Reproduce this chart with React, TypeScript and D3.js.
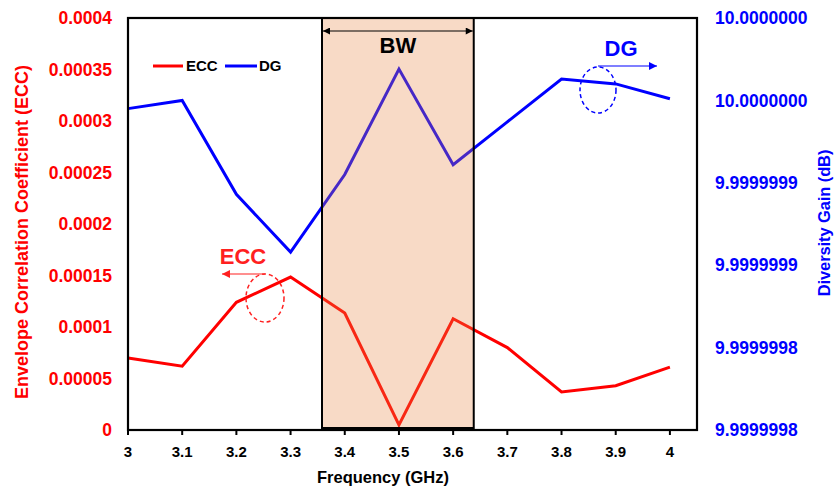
import React from "react";
import * as d3 from "d3";

const frequencies = [3.0, 3.1, 3.2, 3.3, 3.4, 3.5, 3.6, 3.7, 3.8, 3.9, 4.0];
const eccValues = [0.00007, 0.000062, 0.000124, 0.0001485, 0.0001135, 0.000005, 0.000108, 0.00008, 0.000037, 0.000043, 0.000061];
const dgValues = [9.999999945, 9.99999995, 9.999999893, 9.999999858, 9.999999905, 9.999999969, 9.999999911, 9.999999937, 9.999999963, 9.99999996, 9.999999951];
const xTicks = [3, 3.1, 3.2, 3.3, 3.4, 3.5, 3.6, 3.7, 3.8, 3.9, 4];
const xTickLabels = ["3", "3.1", "3.2", "3.3", "3.4", "3.5", "3.6", "3.7", "3.8", "3.9", "4"];
const eccTicks = [0, 0.00005, 0.0001, 0.00015, 0.0002, 0.00025, 0.0003, 0.00035, 0.0004];
const eccTickLabels = ["0", "0.00005", "0.0001", "0.00015", "0.0002", "0.00025", "0.0003", "0.00035", "0.0004"];
const dgTicks = [9.99999975, 9.9999998, 9.99999985, 9.9999999, 9.99999995, 10.0];
const dgTickLabels = ["9.9999998", "9.9999998", "9.9999999", "9.9999999", "10.0000000", "10.0000000"];
const bwRange = [3.358, 3.638];

const FONT = "'Liberation Sans', Arial, sans-serif";

export default function App() {
  const left = 128, right = 697, top = 18, bottom = 430;
  const x = d3.scaleLinear().domain([3, 4.05]).range([left, right]);
  const yE = d3.scaleLinear().domain([0, 0.0004]).range([bottom, top]);
  const yD = d3.scaleLinear().domain([9.99999975, 10.0]).range([bottom, top]);

  const eccLine = d3.line<number>().x((_, i) => x(frequencies[i])).y((d) => yE(d))(eccValues) || "";
  const dgLine = d3.line<number>().x((_, i) => x(frequencies[i])).y((d) => yD(d))(dgValues) || "";

  const bx0 = x(bwRange[0]);
  const bx1 = x(bwRange[1]);

  return (
    <svg width={834} height={488} style={{ position: "absolute", left: 0, top: 0, fontFamily: FONT }}>
      <defs>
        <marker id="ah-k" viewBox="0 0 10 10" refX="10" refY="5" markerWidth="9" markerHeight="7" orient="auto-start-reverse" markerUnits="userSpaceOnUse">
          <path d="M0,0 L10,5 L0,10 z" fill="#000" />
        </marker>
        <marker id="ah-b" viewBox="0 0 10 10" refX="10" refY="5" markerWidth="11" markerHeight="8" orient="auto" markerUnits="userSpaceOnUse">
          <path d="M0,0 L10,5 L0,10 z" fill="#0000ff" />
        </marker>
        <marker id="ah-r" viewBox="0 0 10 10" refX="10" refY="5" markerWidth="11" markerHeight="8" orient="auto" markerUnits="userSpaceOnUse">
          <path d="M0,0 L10,5 L0,10 z" fill="#ff2020" />
        </marker>
      </defs>
      <rect x={0} y={0} width={834} height={488} fill="#fff" />

      {/* data lines */}
      <path d={dgLine} fill="none" stroke="#0000ff" strokeWidth={3} strokeLinejoin="miter" />
      <path d={eccLine} fill="none" stroke="#ff0000" strokeWidth={3} strokeLinejoin="miter" />

      {/* BW shaded region (semi-transparent over lines) */}
      <rect x={bx0} y={top} width={bx1 - bx0} height={bottom - 2 - top} fill="rgb(232,132,65)" fillOpacity={0.3} stroke="#000" strokeWidth={2} />
      <line x1={bx0} x2={bx1} y1={bottom - 1} y2={bottom - 1} stroke="#000" strokeWidth={3} />
      <line x1={bx0 + 1} x2={bx1 - 1} y1={31} y2={31} stroke="#000" strokeWidth={1} markerStart="url(#ah-k)" markerEnd="url(#ah-k)" />
      <text x={(bx0 + bx1) / 2} y={53} textAnchor="middle" fontSize={22} fontWeight="bold" fill="#000">BW</text>

      {/* frame */}
      <rect x={left} y={top} width={right - left} height={bottom - top} fill="none" stroke="#000" strokeWidth={2.2} />

      {/* x ticks */}
      {xTicks.map((t, i) => (
        <g key={i}>
          <line x1={x(t)} x2={x(t)} y1={bottom} y2={bottom + 5} stroke="#000" strokeWidth={2} />
          <text x={x(t)} y={457} textAnchor="middle" fontSize={15} fontWeight="bold" fill="#000">{xTickLabels[i]}</text>
        </g>
      ))}
      <text x={383} y={483} textAnchor="middle" fontSize={16.5} fontWeight="bold" fill="#000">Frequency (GHz)</text>

      {/* left ticks */}
      {eccTicks.map((t, i) => (
        <text key={i} x={112} y={yE(t)} dy="0.35em" textAnchor="end" fontSize={17.5} fontWeight="bold" fill="#ff0000">{eccTickLabels[i]}</text>
      ))}
      <text transform={`translate(22,232) rotate(-90)`} dy="0.35em" textAnchor="middle" fontSize={18} fontWeight="bold" fill="#ff0000">Envelope Correlation Coefficient (ECC)</text>

      {/* right ticks */}
      {dgTicks.map((t, i) => (
        <text key={i} x={715} y={yD(t)} dy="0.35em" textAnchor="start" fontSize={17.5} fontWeight="bold" fill="#0000ff">{dgTickLabels[i]}</text>
      ))}
      <text transform={`translate(824,223) rotate(-90)`} dy="0.35em" textAnchor="middle" fontSize={16.5} fontWeight="bold" fill="#0000ff" letterSpacing={-0.1}>Diversity Gain (dB)</text>

      {/* legend */}
      <line x1={153} x2={183} y1={66} y2={66} stroke="#ff0000" strokeWidth={3} />
      <text x={186} y={66} dy="0.35em" fontSize={15} fontWeight="bold" fill="#000">ECC</text>
      <line x1={225} x2={257} y1={66} y2={66} stroke="#0000ff" strokeWidth={3} />
      <text x={259} y={66} dy="0.35em" fontSize={15} fontWeight="bold" fill="#000">DG</text>

      {/* DG annotation */}
      <text x={621} y={56} textAnchor="middle" fontSize={22} fontWeight="bold" fill="#0000ff">DG</text>
      <ellipse cx={598} cy={90} rx={18} ry={23} fill="none" stroke="#0000ff" strokeWidth={1.5} strokeDasharray="4,3" />
      <line x1={598} x2={657} y1={66} y2={66} stroke="#0000ff" strokeWidth={1.2} markerEnd="url(#ah-b)" />

      {/* ECC annotation */}
      <text x={243} y={264} textAnchor="middle" fontSize={22} fontWeight="bold" fill="#ff2020">ECC</text>
      <ellipse cx={265} cy={298} rx={19} ry={24} fill="none" stroke="#ff2020" strokeWidth={1.5} strokeDasharray="4,3" />
      <line x1={265} x2={222} y1={274} y2={274} stroke="#ff2020" strokeWidth={1.2} markerEnd="url(#ah-r)" />
    </svg>
  );
}
